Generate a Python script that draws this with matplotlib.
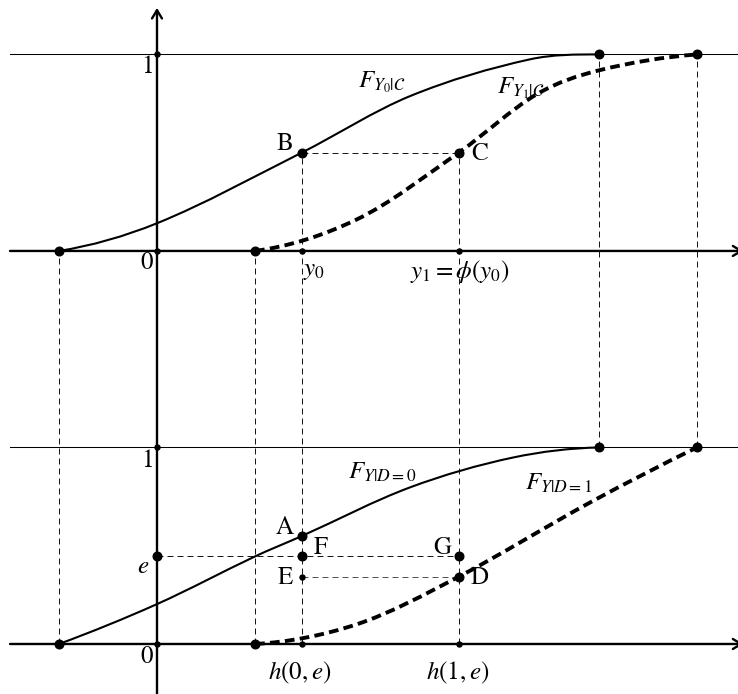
import numpy as np
import matplotlib
matplotlib.use("Agg")
import matplotlib.pyplot as plt
from matplotlib.path import Path
from matplotlib.patches import PathPatch, FancyArrowPatch

plt.rcParams['lines.scale_dashes'] = False
plt.rcParams['mathtext.fontset'] = 'stix'
plt.rcParams['font.family'] = ['STIXGeneral', 'DejaVu Serif']

# ---------------- data ----------------
# top panel: potential-outcome CDFs for compliers
f_y0c_x = [-0.499, 0.0, 0.736, 1.288, 1.898, 2.249]
f_y0c_y = [0.0, 0.141, 0.5, 0.788, 0.975, 1.0]
f_y1c_x = [0.499, 1.016, 1.535, 1.932, 2.249, 2.748]
f_y1c_y = [0.0, 0.16, 0.5, 0.797, 0.919, 1.0]
# bottom panel: observed CDFs
f_d0_x = [-0.499, 0.0, 0.5, 0.736, 1.288, 1.813, 2.249]
f_d0_y = [0.0, 0.203, 0.446, 0.549, 0.797, 0.949, 1.0]
f_d1_x = [0.499, 1.016, 1.535, 2.204, 2.748]
f_d1_y = [0.0, 0.10, 0.342, 0.72, 1.0]

y0 = 0.736          # y0 = h(0,e)
y1 = 1.535          # y1 = phi(y0) = h(1,e)
level_B = 0.5       # F_{Y0|C}(y0) = F_{Y1|C}(y1)
level_A = 0.549
level_e = 0.446
level_D = 0.342
supp_lo = [-0.499, 0.499]
supp_hi = [2.249, 2.748]

TOP = 2.0  # vertical offset of top panel

# ---------------- figure ----------------
fig = plt.figure(figsize=(7.38, 6.94), dpi=100)
ax = fig.add_axes([0, 0, 1, 1])
ax.set_xlim(-0.799, 2.957)
ax.set_ylim(-0.2545, 3.277)
ax.axis('off')

def smooth_path(xs, ys, dy=0.0):
    """Cubic Hermite curve through the read points, drawn as Bezier segments."""
    xs = np.asarray(xs, float); ys = np.asarray(ys, float) + dy
    n = len(xs)
    d = np.diff(ys) / np.diff(xs)
    m = np.empty(n)
    m[1:-1] = (ys[2:] - ys[:-2]) / (xs[2:] - xs[:-2])
    m[0] = max(2 * d[0] - m[1], 0.0)
    m[-1] = max(2 * d[-1] - m[-2], 0.0)
    verts = [(xs[0], ys[0])]
    codes = [Path.MOVETO]
    for i in range(n - 1):
        h = xs[i + 1] - xs[i]
        verts += [(xs[i] + h / 3, ys[i] + m[i] * h / 3),
                  (xs[i + 1] - h / 3, ys[i + 1] - m[i + 1] * h / 3),
                  (xs[i + 1], ys[i + 1])]
        codes += [Path.CURVE4] * 3
    return Path(verts, codes)

guide = dict(color='k', lw=0.65, ls=(0, (4.3, 2.9)), zorder=1)
# vertical guides
for x in supp_lo:
    ax.plot([x, x], [0, TOP], **guide)
for x in supp_hi:
    ax.plot([x, x], [1, TOP + 1], **guide)
for x in (y0, y1):
    ax.plot([x, x], [0, TOP + level_B], **guide)
# horizontal guides
ax.plot([y0, y1], [TOP + level_B] * 2, **guide)
ax.plot([0, y1], [level_e] * 2, **guide)
ax.plot([y0, y1], [level_D] * 2, color='#444444', lw=0.65, ls=(0, (4.3, 2.9)), zorder=1)

# axes
arrow = '->,head_length=4,head_width=2.4'
xl, xr = -0.748, 2.985
for base in (0, TOP):
    ax.add_patch(FancyArrowPatch((xl, base), (xr, base), arrowstyle=arrow,
                                 lw=1.7, color='k', zorder=2, shrinkA=0, shrinkB=0,
                                 mutation_scale=1.5))
    ax.plot([xl, 2.99], [base + 1] * 2, color='k', lw=0.75, zorder=2)
ax.add_patch(FancyArrowPatch((0, -0.3), (0, 3.237), arrowstyle=arrow,
                             lw=1.7, color='k', zorder=2, shrinkA=0, shrinkB=0,
                             mutation_scale=1.5))

# curves
ax.add_patch(PathPatch(smooth_path(f_y0c_x, f_y0c_y, TOP), fill=False, lw=1.5, color='k', zorder=3))
ax.add_patch(PathPatch(smooth_path(f_y1c_x, f_y1c_y, TOP), fill=False, lw=2.8, color='k',
                       ls=(0, (7.0, 3.8)), capstyle='butt', zorder=3))
ax.add_patch(PathPatch(smooth_path(f_d0_x, f_d0_y), fill=False, lw=1.5, color='k', zorder=3))
ax.add_patch(PathPatch(smooth_path(f_d1_x, f_d1_y), fill=False, lw=2.8, color='k',
                       ls=(0, (7.0, 3.8)), capstyle='butt', zorder=3))

# big dots
big_x = [supp_lo[0], supp_lo[1], supp_hi[0], supp_hi[1]] * 2 + [y0, y1, y0, y0, y1, y1, 0]
big_y = [TOP, TOP, TOP + 1, TOP + 1, 0, 0, 1, 1] + \
        [TOP + level_B, TOP + level_B, level_A, level_e, level_e, level_D, level_e]
ax.plot(big_x, big_y, 'o', ms=6.2, color='k', zorder=4)
# small dots
small_x = [0, 0, y0, y1, 0, 0, y0, y1, y0]
small_y = [TOP, TOP + 1, TOP, TOP, 0, 1, 0, 0, level_D]
ax.plot(small_x, small_y, 'o', ms=3.6, color='k', zorder=4)

fs = 18
def T(x, y, s, **kw):
    kw.setdefault('ha', 'center')
    kw.setdefault('va', 'center')
    ax.text(x, y, s, fontsize=kw.pop('size', fs), zorder=5, **kw)

T(-0.051, TOP + 0.935, '1')
T(-0.051, TOP - 0.061, '0')
T(-0.051, 0.932, '1')
T(-0.051, -0.066, '0')
T(-0.071, 0.392, r'$e$')
T(0.651, TOP + 0.545, 'B')
T(1.644, TOP + 0.494, 'C')
T(0.745, TOP - 0.097, r'$y_0$', ha='left')
T(1.542, TOP - 0.107, r'$y_1 = \phi(y_0)$')
T(1.023, TOP + 0.83, r'$F_{Y_0|\mathcal{C}}$', ha='left', va='baseline')
T(1.730, TOP + 0.804, r'$F_{Y_1|\mathcal{C}}$', ha='left', va='baseline')
T(0.649, 0.59, 'A')
T(0.832, 0.486, 'F')
T(0.651, 0.338, 'E')
T(1.453, 0.491, 'G')
T(1.644, 0.338, 'D')
T(0.972, 0.84, r'$F_{Y|D=0}$', ha='left', va='baseline')
T(1.873, 0.784, r'$F_{Y|D=1}$', ha='left', va='baseline')
T(0.728, -0.148, r'$h(0,e)$')
T(1.529, -0.148, r'$h(1,e)$')

fig.savefig('out.png', dpi=100)
